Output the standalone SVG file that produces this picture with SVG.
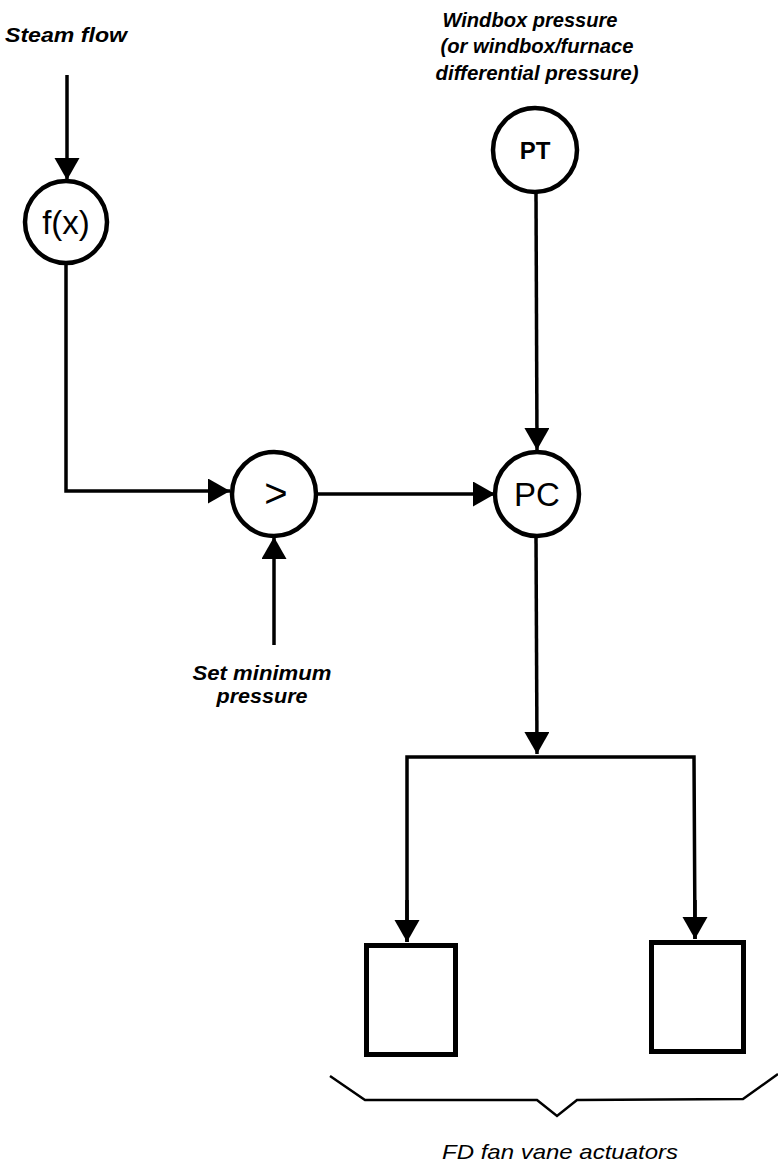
<svg xmlns="http://www.w3.org/2000/svg" width="778" height="1165" viewBox="0 0 778 1165">
<style>
.node{fill:#fff;stroke:#000;stroke-width:4.5}
.box{fill:#fff;stroke:#000;stroke-width:5}
.ln{fill:none;stroke:#000;stroke-width:3.5}
.lbl{font-family:"Liberation Sans",Arial,sans-serif;font-weight:bold;font-style:italic;font-size:21px;fill:#000}
.cap{font-family:"Liberation Sans",Arial,sans-serif;font-style:italic;font-size:21px;fill:#000}
.nt{font-family:"Liberation Sans",Arial,sans-serif;font-size:33px;fill:#000;text-anchor:middle}
</style>
<defs>
<marker id="ah" markerUnits="userSpaceOnUse" markerWidth="24" markerHeight="26" refX="22" refY="12.5" orient="auto">
<path d="M0,0 L22,12.5 L0,25 z" fill="#000"/>
</marker>
</defs>
<g id="labels">
<text class="lbl" x="5" y="42" textLength="122" lengthAdjust="spacingAndGlyphs">Steam flow</text>
<text class="lbl" x="530" y="27" text-anchor="middle" textLength="175" lengthAdjust="spacingAndGlyphs">Windbox pressure</text>
<text class="lbl" x="537" y="53" text-anchor="middle" textLength="193" lengthAdjust="spacingAndGlyphs">(or windbox/furnace</text>
<text class="lbl" x="537" y="80" text-anchor="middle" textLength="203" lengthAdjust="spacingAndGlyphs">differential pressure)</text>
<text class="lbl" x="262" y="680" text-anchor="middle" textLength="139" lengthAdjust="spacingAndGlyphs">Set minimum</text>
<text class="lbl" x="262" y="703" text-anchor="middle" textLength="91" lengthAdjust="spacingAndGlyphs">pressure</text>
<text class="cap" x="560" y="1159" text-anchor="middle" textLength="236" lengthAdjust="spacingAndGlyphs">FD fan vane actuators</text>
</g>
<g id="connectors">
<line class="ln" x1="67" y1="75" x2="67" y2="180" marker-end="url(#ah)"/>
<polyline class="ln" points="66,263 66,491 230,491" marker-end="url(#ah)"/>
<line class="ln" x1="274" y1="645" x2="274" y2="537" marker-end="url(#ah)"/>
<line class="ln" x1="318" y1="494" x2="495" y2="494" marker-end="url(#ah)"/>
<line class="ln" x1="536" y1="193" x2="537" y2="450" marker-end="url(#ah)"/>
<line class="ln" x1="536" y1="537" x2="537" y2="754" marker-end="url(#ah)"/>
<polyline class="ln" points="407,942 407,757 694,757 695,939" />
<line class="ln" x1="407" y1="900" x2="407" y2="942" marker-end="url(#ah)"/>
<line class="ln" x1="695" y1="900" x2="695" y2="939" marker-end="url(#ah)"/>
<polyline fill="none" stroke="#000" stroke-width="2.5" points="330,1076 365,1100 537,1100 557,1116 577,1100 743,1099 778,1074"/>
</g>
<g id="node-fx">
<circle class="node" cx="66" cy="222" r="41"/>
<text class="nt" x="66" y="234">f(x)</text>
</g>
<g id="node-gt">
<circle class="node" cx="274" cy="494" r="42"/>
<text class="nt" x="276" y="507" style="font-size:40px">&gt;</text>
</g>
<g id="node-pt">
<circle class="node" cx="535" cy="150" r="42"/>
<text class="nt" x="535" y="159" style="font-weight:bold;font-size:24px">PT</text>
</g>
<g id="node-pc">
<circle class="node" cx="537" cy="494" r="42"/>
<text class="nt" x="537" y="506">PC</text>
</g>
<g id="node-act1">
<rect class="box" x="366.5" y="945.5" width="89" height="109"/>
</g>
<g id="node-act2">
<rect class="box" x="651.5" y="942.5" width="92" height="109"/>
</g>
</svg>
